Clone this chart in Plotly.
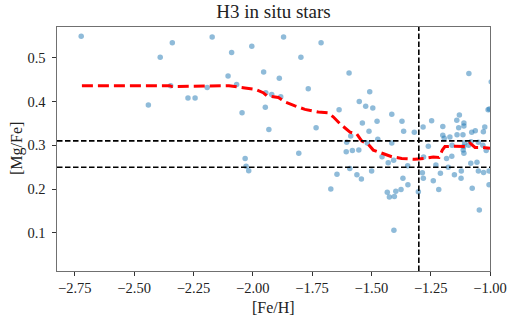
import plotly.graph_objects as go

feh = [-2.723, -2.339, -2.390, -2.346, -2.440, -2.273, -2.243,
       -2.171, -2.192, -2.089, -2.004, -1.870, -1.712, -1.797, -2.104, -2.068,
       -1.954, -1.888, -1.766, -1.945, -1.920, -1.882, -1.947, -2.045, -1.932,
       -1.733, -1.636,
       -1.594, -1.507, -1.551, -1.524, -1.494, -1.538, -1.476, -1.510, -1.587,
       -1.604, -1.414, -1.371, -1.364, -1.319, -1.414, -1.282, -1.246, -1.199,
       -1.199, -1.169, -1.139, -1.114, -1.140, -1.129, -1.110, -1.110, -1.132,
       -1.089, -1.077, -1.062, -1.028, -1.022, -1.008, -1.003, -1.193, -0.995,
       -1.473, -1.517, -1.016,
       -2.032, -2.028, -2.017, -1.806, -1.645, -1.671,
       -1.606, -1.580, -1.553, -1.591, -1.561, -1.542, -1.499, -1.455, -1.429,
       -1.406, -1.367, -1.346, -1.375, -1.397, -1.433, -1.424, -1.403, -1.405,
       -1.302, -1.347, -1.285, -1.281, -1.280, -1.260, -1.239, -1.216, -1.209,
       -1.228, -1.183, -1.161, -1.176, -1.150, -1.121, -1.122, -1.113, -1.110,
       -1.081, -1.055, -1.049, -1.027, -1.004, -1.075, -1.004, -1.045, -1.080,
       -1.049, -1.107, -1.111, -1.160, -1.090, -1.030]
mgfe = [0.549, 0.534, 0.501, 0.436, 0.392, 0.408, 0.408,
        0.547, 0.432, 0.512, 0.526, 0.547, 0.534, 0.501, 0.458, 0.439,
        0.467, 0.453, 0.429, 0.420, 0.416, 0.411, 0.387, 0.374, 0.336,
        0.340, 0.381,
        0.465, 0.422, 0.400, 0.389, 0.385, 0.351, 0.355, 0.332, 0.321,
        0.307, 0.371, 0.355, 0.332, 0.330, 0.305, 0.342, 0.356, 0.343,
        0.323, 0.319, 0.324, 0.324, 0.357, 0.369, 0.351, 0.344, 0.340,
        0.464, 0.330, 0.333, 0.331, 0.342, 0.381, 0.383, 0.316, 0.445,
        0.314, 0.305, 0.288,
        0.270, 0.252, 0.242, 0.282, 0.234, 0.200,
        0.285, 0.288, 0.289, 0.247, 0.233, 0.223, 0.241, 0.274, 0.260,
        0.266, 0.225, 0.210, 0.199, 0.195, 0.193, 0.182, 0.183, 0.106,
        0.194, 0.253, 0.237, 0.225, 0.273, 0.298, 0.219, 0.199, 0.236,
        0.255, 0.270, 0.275, 0.250, 0.233, 0.241, 0.225, 0.289, 0.282,
        0.259, 0.261, 0.241, 0.238, 0.241, 0.202, 0.210, 0.152, 0.308,
        0.307, 0.306, 0.297, 0.300, 0.300, 0.300]

# Running median curve
med_feh = [-2.72, -2.35, -2.34, -2.10, -2.033, -1.991, -1.956, -1.941, -1.892,
           -1.864, -1.822, -1.780, -1.724, -1.682, -1.661, -1.632, -1.590,
           -1.562, -1.541, -1.513, -1.492, -1.471, -1.414, -1.372, -1.316,
           -1.274, -1.239, -1.215, -1.201, -1.190, -1.148, -1.105, -1.084,
           -1.063, -1.035, -1.000]
med_mgfe = [0.436, 0.436, 0.434, 0.436, 0.431, 0.428, 0.420, 0.413, 0.409,
            0.399, 0.390, 0.382, 0.376, 0.374, 0.365, 0.349, 0.330,
            0.326, 0.310, 0.302, 0.289, 0.285, 0.274, 0.270, 0.268,
            0.270, 0.273, 0.272, 0.289, 0.297, 0.298, 0.297, 0.305,
            0.295, 0.295, 0.293]

h_lines = [0.31, 0.25]
v_lines = [-1.3]

x_ticks = [-2.75, -2.50, -2.25, -2.00, -1.75, -1.50, -1.25, -1.00]
x_tick_text = ["\u22122.75", "\u22122.50", "\u22122.25", "\u22122.00",
               "\u22121.75", "\u22121.50", "\u22121.25", "\u22121.00"]
y_ticks = [0.1, 0.2, 0.3, 0.4, 0.5]
y_tick_text = ["0.1", "0.2", "0.3", "0.4", "0.5"]

x_range = [-2.825, -1.0]
y_range = [0.013, 0.570]

W, H = 507, 322
ML, MR, MT, MB = 57, 17, 27, 51
PW, PH = W - ML - MR, H - MT - MB

fig = go.Figure()
fig.add_trace(go.Scatter(
    x=feh, y=mgfe, mode="markers",
    marker=dict(size=5.5, color="rgba(31,119,180,0.5)", line=dict(width=0)),
    showlegend=False, hoverinfo="skip"))
fig.add_trace(go.Scatter(
    x=med_feh, y=med_mgfe, mode="lines",
    line=dict(color="red", width=3, dash="11px,5px"),
    showlegend=False, hoverinfo="skip"))

for h in h_lines:
    fig.add_shape(type="line", xref="paper", yref="y", x0=0, x1=1, y0=h, y1=h,
                  line=dict(color="black", width=1.6, dash="5.5px,2.5px"))
for v in v_lines:
    fig.add_shape(type="line", xref="x", yref="paper", x0=v, x1=v, y0=0, y1=1,
                  line=dict(color="black", width=1.6, dash="5.5px,2.5px"))

font_family = "Liberation Serif"
txt_color = "#222"

fig.add_annotation(text="[Fe/H]", xref="paper", yref="paper",
                   x=0.5, y=-(307 - (H - MB)) / PH, xanchor="center", yanchor="middle",
                   showarrow=False, font=dict(size=16, family=font_family, color=txt_color))
fig.add_annotation(text="[Mg/Fe]", xref="paper", yref="paper",
                   x=-(ML - 17) / PW, y=0.5, xanchor="center", yanchor="middle",
                   textangle=-90, showarrow=False,
                   font=dict(size=16, family=font_family, color=txt_color))

fig.update_layout(
    width=W, height=H,
    margin=dict(l=ML, r=MR, t=MT, b=MB, autoexpand=False),
    paper_bgcolor="white", plot_bgcolor="white",
    font=dict(family=font_family, size=14, color=txt_color),
    title=dict(text="H3 in situ stars", x=(ML + PW / 2) / W,
               xanchor="center", y=1 - 11.5 / H, yanchor="middle", yref="container",
               font=dict(size=19, family=font_family, color=txt_color)),
)
fig.update_xaxes(
    range=x_range, tickvals=x_ticks, ticktext=x_tick_text,
    showgrid=False, zeroline=False, showline=True, mirror=True,
    linecolor="#707070", linewidth=1.2,
    ticks="outside", ticklen=3.5, tickcolor="#333", tickwidth=0.9,
    tickfont=dict(size=14.5, family=font_family, color=txt_color), automargin=False)
fig.update_yaxes(
    range=y_range, tickvals=y_ticks, ticktext=y_tick_text,
    showgrid=False, zeroline=False, showline=True, mirror=True,
    linecolor="#707070", linewidth=1.2,
    ticks="outside", ticklen=3.5, tickcolor="#333", tickwidth=0.9,
    ticklabelstandoff=4,
    tickfont=dict(size=14.5, family=font_family, color=txt_color), automargin=False)

fig.write_html("out.html",
               config={"displayModeBar": False},
               post_script="document.body.style.margin='0';document.body.style.overflow='hidden';")
